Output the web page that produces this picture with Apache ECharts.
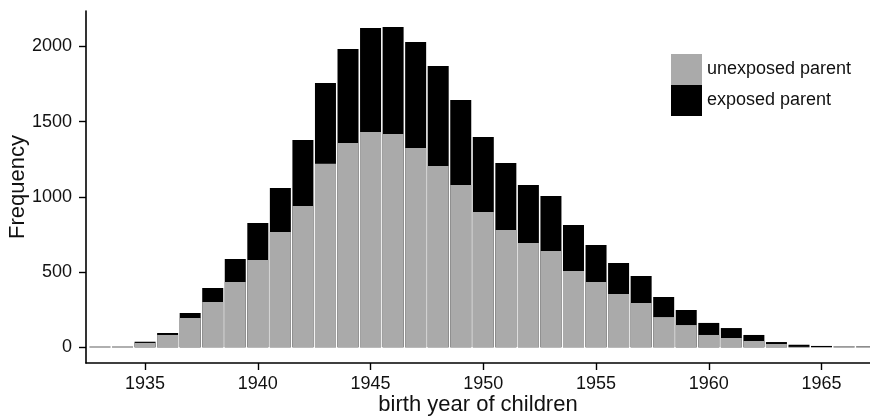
<!DOCTYPE html>
<html>
<head>
<meta charset="utf-8">
<script src="https://cdn.jsdelivr.net/npm/echarts@6/dist/echarts.min.js"></script>
<style>
  html, body { margin: 0; padding: 0; background: #fff; }
  #chart { width: 870px; height: 417px; }
</style>
</head>
<body>
<div id="chart"></div>
<script>
// Birth years of children, one bar per year
const years = [1933, 1934, 1935, 1936, 1937, 1938, 1939, 1940, 1941, 1942,
  1943, 1944, 1945, 1946, 1947, 1948, 1949, 1950, 1951, 1952,
  1953, 1954, 1955, 1956, 1957, 1958, 1959, 1960, 1961, 1962,
  1963, 1964, 1965, 1966, 1967];

// Children whose parent was not exposed
const unexposed = [4, 4, 29, 82, 195, 301, 434, 580, 767, 939,
  1221, 1358, 1431, 1418, 1325, 1205, 1079, 900, 780, 693,
  640, 507, 434, 354, 295, 201, 148, 82, 62, 42,
  22, 3, 0, 5, 0];

// Children whose parent was exposed (stacked on top)
const exposed = [0, 0, 8, 13, 33, 93, 153, 246, 292, 440,
  536, 625, 692, 711, 705, 665, 565, 498, 445, 386,
  366, 306, 246, 206, 179, 133, 100, 80, 66, 40,
  13, 14, 9, 0, 5];

const xTicks = [1935, 1940, 1945, 1950, 1955, 1960, 1965];
const yTicks = [0, 500, 1000, 1500, 2000];

const seriesNames = ['unexposed parent', 'exposed parent'];

const FONT = 'Liberation Sans, Arial, Helvetica, sans-serif';
const INK = '#111';

// Height of each stacked column (unexposed + exposed); the black column is
// drawn full height and the grey one overlaid on its lower part.
const totals = years.map((y, i) => unexposed[i] + exposed[i]);

const chart = echarts.init(document.getElementById('chart'), null, { renderer: 'canvas' });

const axisCommon = {
  type: 'value',
  splitLine: { show: false },
  axisLine: { show: true, onZero: false, lineStyle: { color: '#000', width: 1.6 } },
  axisTick: { show: true, length: 7, lineStyle: { color: '#000', width: 1.4 } },
  nameMoveOverlap: false,
  nameTextStyle: { fontFamily: FONT, fontSize: 22, color: INK }
};

const plain = v => String(v);

chart.setOption({
  animation: false,
  backgroundColor: '#fff',
  grid: {
    left: 86, right: 0, top: 11, bottom: 54,
    containLabel: false,
    outerBoundsMode: 'none'
  },
  legend: {
    orient: 'vertical',
    left: 671,
    top: 54,
    itemWidth: 31,
    itemHeight: 31,
    itemGap: 0,
    icon: 'rect',
    padding: 0,
    selectedMode: false,
    data: seriesNames,
    textStyle: { fontFamily: FONT, fontSize: 18, color: INK }
  },
  xAxis: Object.assign({}, axisCommon, {
    min: 1932.38,
    max: 1967.15,
    name: 'birth year of children',
    nameLocation: 'middle',
    nameGap: 31,
    axisTick: Object.assign({}, axisCommon.axisTick, { customValues: xTicks }),
    axisLabel: {
      customValues: xTicks,
      formatter: plain,
      margin: 12,
      fontFamily: FONT, fontSize: 18, color: INK
    }
  }),
  yAxis: Object.assign({}, axisCommon, {
    min: -104.4,
    max: 2236,
    name: 'Frequency',
    nameLocation: 'middle',
    nameGap: 57,
    nameRotate: 90,
    axisTick: Object.assign({}, axisCommon.axisTick, { customValues: yTicks }),
    axisLabel: {
      customValues: yTicks,
      formatter: plain,
      margin: 14,
      fontFamily: FONT, fontSize: 18, color: INK
    }
  }),
  series: [
    {
      name: seriesNames[1],
      type: 'bar',
      barWidth: 21,
      barGap: '-100%',
      itemStyle: { color: '#000000' },
      emphasis: { disabled: true },
      z: 2,
      data: years.map((y, i) => [y, totals[i]])
    },
    {
      name: seriesNames[0],
      type: 'bar',
      barWidth: 21,
      barGap: '-100%',
      itemStyle: { color: '#aaaaaa' },
      emphasis: { disabled: true },
      z: 3,
      data: years.map((y, i) => [y, unexposed[i]])
    }
  ]
});
</script>
</body>
</html>
